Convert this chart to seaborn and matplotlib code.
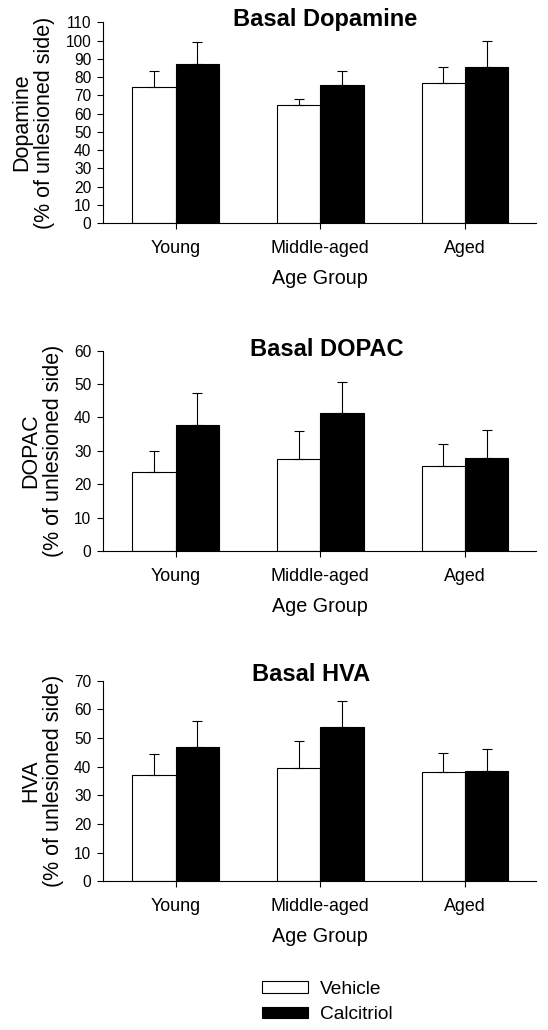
import pandas as pd
import seaborn as sns
import matplotlib.pyplot as plt
from matplotlib.patches import Patch

sns.set_style("ticks", {"axes.edgecolor": "black", "text.color": "black",
                        "xtick.color": "black", "ytick.color": "black",
                        "axes.labelcolor": "black"})
plt.rcParams['font.family'] = ['Liberation Sans', 'DejaVu Sans']

# values (mean and upward error)
groups = ["Young", "Middle-aged", "Aged"]
treatments = ["Vehicle", "Calcitriol"]

da_vehicle = [74.5, 64.9, 76.9]
da_vehicle_err = [8.8, 3.1, 8.4]
da_calcitriol = [87.3, 75.8, 85.6]
da_calcitriol_err = [12.0, 7.3, 14.2]

dopac_vehicle = [23.8, 27.6, 25.6]
dopac_vehicle_err = [6.1, 8.4, 6.4]
dopac_calcitriol = [37.7, 41.4, 27.8]
dopac_calcitriol_err = [9.7, 9.2, 8.4]

hva_vehicle = [37.0, 39.4, 38.0]
hva_vehicle_err = [7.4, 9.7, 6.8]
hva_calcitriol = [46.9, 53.7, 38.3]
hva_calcitriol_err = [8.9, 9.1, 8.0]

panels = [
    ("Basal Dopamine", "Dopamine", da_vehicle, da_vehicle_err, da_calcitriol, da_calcitriol_err, 110, 0.512, 0.98),
    ("Basal DOPAC", "DOPAC", dopac_vehicle, dopac_vehicle_err, dopac_calcitriol, dopac_calcitriol_err, 60, 0.516, 0.974),
    ("Basal HVA", "HVA", hva_vehicle, hva_vehicle_err, hva_calcitriol, hva_calcitriol_err, 70, 0.481, 1.0),
]

fig = plt.figure(figsize=(5.48, 10.30), dpi=100)
bottoms = [0.7835, 0.4648, 0.1444]

for (title, name, veh, veh_err, cal, cal_err, ymax, tx, ty), b in zip(panels, bottoms):
    ax = fig.add_axes([0.188, b, 0.791, 0.1948])
    df = pd.DataFrame({
        "group": groups * 2,
        "treatment": ["Vehicle"] * 3 + ["Calcitriol"] * 3,
        "value": veh + cal,
    })
    sns.barplot(data=df, x="group", y="value", hue="treatment", order=groups,
                hue_order=treatments, palette={"Vehicle": "white", "Calcitriol": "black"},
                edgecolor="black", linewidth=0.8, width=0.6, errorbar=None,
                legend=False, ax=ax)
    # upward-only error bars
    for cont, errs in zip(ax.containers, [veh_err, cal_err]):
        xs = [bar.get_x() + bar.get_width() / 2 for bar in cont]
        ys = [bar.get_height() for bar in cont]
        ax.errorbar(xs, ys, yerr=[[0] * 3, errs], fmt="none", ecolor="black",
                    elinewidth=0.8, capsize=3.9, capthick=0.8, zorder=3)
    ax.set_xlim(-0.503, 2.495)
    ax.set_ylim(0, ymax)
    ax.set_yticks(range(0, ymax + 1, 10))
    sns.despine(ax=ax)
    for s in ["left", "bottom"]:
        ax.spines[s].set_linewidth(0.8)
    ax.tick_params(axis="y", labelsize=11.2, length=4, width=0.8, pad=4.5)
    ax.tick_params(axis="x", labelsize=12.9, length=4, width=0.8, pad=8)
    ax.set_xlabel("Age Group", fontsize=14.2, labelpad=9)
    ax.set_ylabel(name + "\n(% of unlesioned side)", fontsize=15.5, labelpad=7.5, linespacing=1.1)
    ax.text(tx, ty, title, transform=ax.transAxes, ha="center", va="baseline",
            fontsize=17, fontweight="bold")

handles = [Patch(facecolor="white", edgecolor="black", linewidth=0.8, label="Vehicle"),
           Patch(facecolor="black", edgecolor="black", linewidth=0.8, label="Calcitriol")]
fig.legend(handles=handles, loc="upper left", bbox_to_anchor=(261.7 / 548, 1 - 981 / 1030),
           frameon=False, fontsize=13.8, handlelength=2.44, handleheight=0.55,
           handletextpad=0.61, labelspacing=0.43, borderpad=0, borderaxespad=0)

fig.savefig("out.png", dpi=100)
